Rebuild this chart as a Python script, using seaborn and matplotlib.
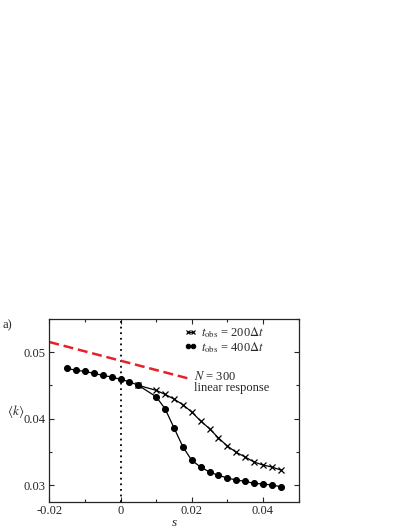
import numpy as np
import pandas as pd
import matplotlib
matplotlib.use("Agg")
import matplotlib.pyplot as plt
import seaborn as sns
from matplotlib.ticker import MultipleLocator

# ---- data ----
s_400 = [-0.015, -0.0125, -0.01, -0.0075, -0.005, -0.0025, 0.0, 0.0025, 0.005,
         0.01, 0.0125, 0.015, 0.0175, 0.02, 0.0225, 0.025, 0.0275, 0.03,
         0.0325, 0.035, 0.0375, 0.04, 0.0425, 0.045]
k_400 = [0.04755, 0.04725, 0.0471, 0.0468, 0.0465, 0.04625, 0.0459, 0.04555, 0.0450,
         0.0433, 0.0415, 0.03865, 0.0358, 0.03375, 0.03275, 0.0320, 0.0315, 0.0311,
         0.0308, 0.0306, 0.0303, 0.0302, 0.03005, 0.0298]

s_200 = [0.005, 0.01, 0.0125, 0.015, 0.0175, 0.02, 0.0225, 0.025, 0.0275, 0.03,
         0.0325, 0.035, 0.0375, 0.04, 0.0425, 0.045]
k_200 = [0.0450, 0.04425, 0.04365, 0.04295, 0.0421, 0.0410, 0.03965, 0.0385, 0.0371,
         0.0359, 0.03495, 0.03425, 0.0335, 0.03305, 0.03275, 0.0323]

s_lr = [-0.02, 0.02]
k_lr = [0.0515, 0.0459]

label_200 = r"$t_{\rm obs}$ = 200$\Delta t$"
label_400 = r"$t_{\rm obs}$ = 400$\Delta t$"

# ---- style ----
sns.set_style("ticks")
plt.rcParams["font.family"] = "serif"
plt.rcParams["font.serif"] = ["Liberation Serif", "DejaVu Serif"]
plt.rcParams["mathtext.fontset"] = "stix"
plt.rcParams["font.size"] = 9

FS = 9

fig = plt.figure(figsize=(4.09, 5.29), dpi=100)
ax = fig.add_axes([0.1205, 0.051, 0.6095, 0.3466])

df200 = pd.DataFrame({"s": s_200, "k": k_200})
df400 = pd.DataFrame({"s": s_400, "k": k_400})
dflr = pd.DataFrame({"s": s_lr, "k": k_lr})

ax.axvline(0, color="black", linestyle=(0, (1, 2.1)), linewidth=1.3, zorder=1)

sns.lineplot(data=dflr, x="s", y="k", ax=ax, color="#e8202a", linewidth=1.8,
             legend=False)
ax.lines[-1].set_dashes([4.0, 1.9])

sns.lineplot(data=df200, x="s", y="k", ax=ax, color="black", linewidth=0.9,
             marker="x", markersize=3.8, markeredgewidth=0.9,
             markeredgecolor="black", label=label_200, zorder=3)
sns.lineplot(data=df400, x="s", y="k", ax=ax, color="black", linewidth=0.9,
             marker="o", markersize=4.3, markeredgecolor="black",
             label=label_400, zorder=4)

ax.set_xlim(-0.02, 0.05)
ax.set_ylim(0.0275, 0.055)
ax.xaxis.set_minor_locator(MultipleLocator(0.01))
ax.yaxis.set_minor_locator(MultipleLocator(0.005))
ax.set_xticks([-0.02, 0, 0.02, 0.04])
ax.set_xticklabels(["-0.02", "0", "0.02", "0.04"])
ax.set_yticks([0.03, 0.04, 0.05])
ax.set_yticklabels(["0.03", "0.04", "0.05"])
ax.tick_params(which="both", direction="in", top=True, right=True,
               labelsize=FS, width=0.8, pad=2.5)
ax.tick_params(which="major", length=3.5)
ax.tick_params(which="minor", length=2)
for sp in ax.spines.values():
    sp.set_linewidth(0.9)

ax.set_xlabel("s", style="italic", fontsize=FS + 0.5, labelpad=0)
ax.set_ylabel(r"$\langle k\rangle$", rotation=0, fontsize=FS + 0.5,
              va="center", ha="center")
ax.yaxis.set_label_coords(-0.134, 0.496)

ax.text(0.0205, 0.0464, r"$N$ = 300", fontsize=FS, va="center", ha="left")
ax.text(0.0207, 0.04455, "linear response", fontsize=FS, va="center", ha="left")

fig.text(0.006, 0.385, "a)", fontsize=FS, ha="left", va="center")

leg = ax.legend(loc="upper right", frameon=False, fontsize=FS,
                handlelength=1.0, handletextpad=0.3, labelspacing=0.0,
                borderaxespad=0.1, numpoints=2, markerscale=0.75,
                bbox_to_anchor=(0.886, 1.0))

fig.savefig("out.png", dpi=100)
